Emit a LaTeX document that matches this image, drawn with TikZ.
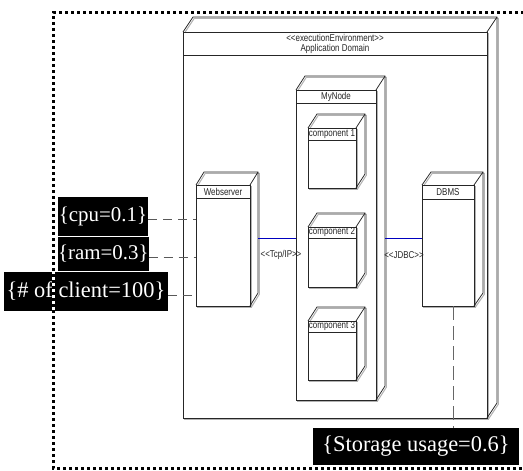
\documentclass[tikz,border=0pt]{standalone}
\usepackage{fontspec}
\setmainfont{Liberation Serif}
\newfontfamily\umlfont{Liberation Sans}
\usetikzlibrary{calc}

% name, x1, y1, x2, y2, depth x, depth y, header line y
\newcommand\umlbox[8]{%
  \begin{scope}[shift={(1.3,1.3)}]
    \draw[boxshade] (#2,#3) rectangle (#4,#5);
    \draw[boxshade] (#2,#3) -- ++(#6,-#7) -- ({#4+#6},{#3-#7}) -- ({#4+#6},{#5-#7}) -- (#4,#5);
  \end{scope}
  \node[frontface, minimum width={(#4-#2)*1bp}, minimum height={(#5-#3)*1bp}] (#1) at (#2,#3) {};
  \draw[boxline] (#1.north west) -- ++(#6,-#7) -| ([shift={(#6,-#7)}]#1.south east) -- (#1.south east);
  \draw[boxline] (#1.north east) -- ++(#6,-#7);
  \draw[boxline] (#2,#8) -- (#4,#8);
}

\begin{document}
\begin{tikzpicture}[x=1bp,y=-1bp,
  frontface/.style={draw=black!85, fill=white, line width=0.75bp, inner sep=0pt, outer sep=0pt, anchor=north west},
  boxline/.style={draw=black!85, line width=0.75bp},
  boxshade/.style={draw=black!30, line width=1bp},
  small/.style={font=\umlfont\fontsize{10}{11}\selectfont, xscale=0.8, inner sep=0pt, text=black!85},
  conn/.style={draw=blue!75!black, line width=0.7bp},
  tagline/.style={draw=black!65, line width=0.8bp, dash pattern=on 9bp off 6bp},
  storeline/.style={draw=black!60, line width=0.6bp, dash pattern=on 14bp off 6bp},
  tag/.style={fill=black, text=white, inner sep=0pt, outer sep=0pt, anchor=north west},
  frame/.style={line width=3bp, line cap=butt},
]
\useasboundingbox (0,0) rectangle (523,471);
\clip (0,0) rectangle (523,471);
\fill[white] (0,0) rectangle (523,471);

% execution environment and its contents
\umlbox{appdom}{183}{32}{487}{418}{10}{15}{55}
\node[small] (appstereo) at (335,38) {<<executionEnvironment>>};
\node[small] (apptitle) at (335,48.5) {Application Domain};

\umlbox{mynode}{296}{90}{376}{400}{9}{14}{103}
\node[small] (mynodetitle) at (336,96.5) {MyNode};

\umlbox{compA}{308}{128}{356}{188}{9}{14}{140}
\node[small] (compAtitle) at (332,134) {component 1};
\umlbox{compB}{308}{227}{356}{287}{9}{14}{238}
\node[small] (compBtitle) at (332,232.5) {component 2};
\umlbox{compC}{308}{321}{356}{380}{9}{14}{332}
\node[small] (compCtitle) at (332,326.5) {component 3};

\umlbox{web}{196}{185}{250}{306}{8}{13}{198}
\node[small] (webtitle) at (223,191.5) {Webserver};

\umlbox{dbms}{422}{185}{474}{306}{9}{13}{199}
\node[small] (dbmstitle) at (448,192) {DBMS};

% communication paths
\draw[conn] ([shift={(8,-7.5)}]web.east) coordinate (tcpA) -- (tcpA -| mynode.west);
\node[small] (tcp) at (281,255) {<<Tcp/IP>>};
\draw[conn] ([shift={(9,-7)}]mynode.east) coordinate (jdbcA) -- (jdbcA -| dbms.west);
\node[small] (jdbc) at (404,255) {<<JDBC>>};

% tagged values
\node[tag, minimum width=90bp, minimum height=39bp, font=\fontsize{21}{21}\selectfont] (cpu) at (58,197) {\{cpu=0.1\}};
\node[tag, minimum width=89bp, minimum height=34bp, font=\fontsize{21}{21}\selectfont] (ram) at (58,237) {\{ram=0.3\}};
\node[tag, minimum width=164bp, minimum height=39bp, font=\fontsize{22.5}{22.5}\selectfont] (client) at (4,272) {\{\# of client=100\}};
\node[tag, minimum width=206bp, minimum height=37bp, font=\fontsize{22.5}{22.5}\selectfont] (storage) at (313,428) {\{Storage usage=0.6\}};

\draw[tagline] ([yshift=-2.5bp]cpu.east) coordinate (cpuA) -- (cpuA -| web.west);
\draw[tagline] ([yshift=-3.5bp]ram.east) coordinate (ramA) -- (ramA -| web.west);
\draw[tagline] ([yshift=-4bp]client.east) coordinate (clientA) -- (clientA -| web.west);
\draw[storeline] ([xshift=5bp]dbms.south) coordinate (storeA) -- (storeA |- storage.north);

% dotted boundary
\draw[frame, white] (530,13) -- (53,13) -- (53,468) -- (530,468);
\draw[frame, black, dash pattern=on 3bp off 3bp] (530,13) -- (53,13) -- (53,468) -- (530,468);
\end{tikzpicture}
\end{document}
